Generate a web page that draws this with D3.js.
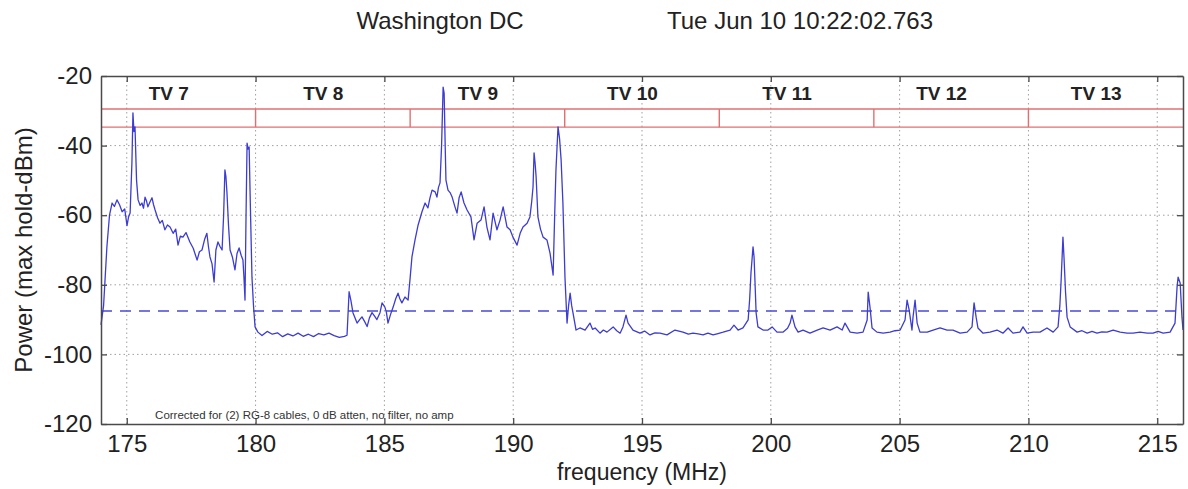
<!DOCTYPE html>
<html>
<head>
<meta charset="utf-8">
<script src="https://cdn.jsdelivr.net/npm/d3@7"></script>
<style>
  html, body { margin: 0; padding: 0; background: #fff; }
  svg { display: block; font-family: "Liberation Sans", Arial, sans-serif; }
</style>
</head>
<body>
<svg id="chart" width="1188" height="489"></svg>
<script>
// spectrum sweep, TV 7-13 (174-216 MHz)

const titleLeft = 'Washington DC';
const titleRight = 'Tue Jun 10 10:22:02.763';
const footNote = 'Corrected for (2) RG-8 cables, 0 dB atten, no filter, no amp';

const channels = ['TV 7', 'TV 8', 'TV 9', 'TV 10', 'TV 11', 'TV 12', 'TV 13'];
const channelEdges = [174, 180, 186, 192, 198, 204, 210, 216];
const bandRows = [-29.5, -34.7];     // the two red rails
const thresholdDbm = -87.5;          // dashed blue line

const xTicks = [175, 180, 185, 190, 195, 200, 205, 210, 215];
const yTicks = [-20, -40, -60, -80, -100, -120];

// [MHz, dBm] max hold trace
const spectrum = [
  [174.00,-91.5],[174.10,-86],[174.23,-69],[174.33,-60],[174.43,-56.5],[174.52,-57.5],[174.62,-55.6],
  [174.72,-57],[174.82,-59],[174.92,-58.2],[175.01,-63],[175.07,-60.5],[175.13,-59.4],[175.20,-45],
  [175.24,-30.6],[175.28,-36],[175.32,-34.6],[175.38,-50],[175.44,-55.6],[175.52,-57.2],[175.59,-56.5],
  [175.65,-58],[175.71,-54.8],[175.77,-56],[175.82,-57.6],[175.90,-56.2],[175.98,-55],[176.04,-57],
  [176.10,-58.5],[176.20,-60.8],[176.29,-62.3],[176.38,-61.5],[176.48,-64.2],[176.58,-62.8],[176.68,-63.4],
  [176.80,-65.2],[176.90,-64],[176.99,-68.6],[177.08,-66],[177.18,-66.3],[177.30,-65],[177.45,-67.7],
  [177.58,-69.5],[177.73,-72.9],[177.82,-70.5],[177.92,-70],[178.02,-67],[178.11,-65.2],[178.17,-69],
  [178.23,-72],[178.31,-74],[178.39,-79.2],[178.46,-70],[178.54,-67.7],[178.62,-69],[178.70,-70],
  [178.76,-60],[178.81,-47],[178.85,-49],[178.89,-53.6],[178.95,-63],[179.01,-70],[179.10,-72],
  [179.20,-75.7],[179.28,-71],[179.36,-69.4],[179.44,-71.5],[179.51,-72.9],[179.55,-78],[179.59,-84.4],
  [179.63,-60],[179.67,-39.3],[179.71,-41],[179.75,-40.4],[179.80,-58],[179.86,-77.8],[179.92,-86],
  [179.98,-92.1],[180.09,-93.6],
  [180.25,-94.6],[180.45,-93.4],[180.65,-94.2],[180.85,-93.8],[181.05,-94.9],[181.25,-94.1],[181.45,-94.7],
  [181.65,-93.9],[181.85,-94.8],[182.05,-94.2],[182.25,-94.9],[182.45,-94.0],[182.65,-94.4],[182.85,-93.9],
  [183.05,-94.6],[183.25,-95.1],[183.45,-94.8],[183.55,-94.5],[183.63,-82],[183.70,-84.5],[183.78,-88],
  [183.94,-91],[184.04,-90],[184.13,-89.2],[184.23,-90.5],[184.33,-92],[184.42,-89.5],[184.52,-88],
  [184.62,-89],[184.71,-90],[184.83,-88],[184.91,-85.2],[185.02,-86.4],[185.08,-88],[185.14,-91],
  [185.24,-88.5],[185.34,-86.4],[185.44,-84],[185.53,-82.4],[185.60,-84],[185.68,-85.2],[185.80,-83.5],
  [185.92,-84.4],[186.00,-78],[186.07,-72],[186.19,-67.1],[186.31,-62.8],[186.46,-59],[186.58,-56.5],
  [186.69,-57.9],[186.77,-55],[186.85,-52.8],[186.97,-53.3],[187.04,-54.8],[187.10,-52],[187.16,-50.7],
  [187.22,-40],[187.28,-23.2],[187.32,-25],[187.36,-40],[187.39,-49.9],[187.47,-52.8],[187.55,-53.5],
  [187.63,-54.8],[187.74,-57.6],[187.82,-59.4],[187.90,-55],[187.98,-53.3],[188.09,-56.5],[188.21,-58.5],
  [188.36,-60.5],[188.48,-67.1],[188.60,-62.3],[188.75,-61.4],[188.87,-57.6],[188.98,-63.4],[189.10,-67.1],
  [189.22,-59.4],[189.30,-62],[189.37,-64.2],[189.49,-61.4],[189.61,-57.6],[189.76,-63.4],[189.88,-64.2],
  [189.99,-66.3],[190.15,-68.6],[190.27,-65.2],[190.38,-63.4],[190.54,-62.3],[190.65,-60.5],[190.72,-56],
  [190.77,-51.9],[190.81,-42.1],[190.85,-45],[190.89,-49],[190.96,-60.5],[191.06,-64],[191.16,-66.3],
  [191.31,-67.1],[191.43,-70.9],[191.55,-77.2],[191.61,-60],[191.66,-47],[191.74,-34.6],[191.80,-38],
  [191.86,-44.1],[191.93,-56.5],[192.01,-77.8],[192.09,-91],[192.15,-86],[192.21,-82.4],[192.27,-86],
  [192.32,-88],[192.44,-93],[192.59,-92.4],[192.79,-93],[192.98,-91],[193.08,-92.8],[193.18,-92.4],
  [193.37,-93.9],[193.50,-93],[193.64,-93.6],[193.88,-92.1],[194.02,-93.2],[194.15,-93.9],[194.26,-92.1],
  [194.38,-88.7],[194.46,-91],[194.65,-93],[194.92,-93.9],[195.10,-93.3],[195.31,-94.4],[195.50,-93.8],
  [195.70,-93.9],[195.97,-94.4],[196.28,-93],[196.59,-93.6],[196.80,-94.2],[196.98,-93.9],[197.18,-94.1],
  [197.37,-94.4],[197.56,-93.9],[197.76,-94.4],[197.95,-94],[198.15,-93.6],[198.42,-93],[198.57,-91.6],
  [198.73,-93],[198.92,-92.4],[199.12,-90.1],[199.18,-84],[199.23,-76.6],[199.31,-69.1],[199.35,-72],
  [199.39,-80],[199.43,-88.1],[199.50,-92.1],[199.70,-93],[199.89,-93],[200.05,-92.1],[200.24,-93.6],
  [200.47,-93.6],[200.65,-92.5],[200.75,-91],[200.82,-88.7],[200.94,-92.1],[201.06,-93.6],[201.25,-93],
  [201.52,-93.9],[201.80,-93],[202.03,-92.4],[202.30,-93],[202.57,-92.1],[202.77,-93],[202.88,-91],
  [203.08,-93.6],[203.35,-93.9],[203.58,-93.6],[203.74,-90.1],[203.78,-82.1],[203.85,-86.4],[203.93,-92.4],
  [204.12,-93.6],[204.36,-93.9],[204.63,-93.6],[204.82,-93.2],[205.02,-93],[205.21,-90.1],[205.29,-84.4],
  [205.37,-87.2],[205.48,-93],[205.52,-89.3],[205.60,-84.4],[205.68,-91],[205.79,-93.6],[206.07,-93.6],
  [206.30,-93],[206.57,-92.4],[206.84,-93],[207.07,-93],[207.35,-93.9],[207.62,-93.6],[207.81,-92.1],
  [207.89,-85.2],[207.97,-89.3],[208.04,-92.4],[208.24,-93.9],[208.51,-93.6],[208.78,-93],[209.01,-93.9],
  [209.21,-92.4],[209.40,-93.9],[209.67,-93.6],[209.79,-92.1],[209.95,-93.9],[210.18,-93.6],[210.45,-93.6],
  [210.72,-92.4],[210.96,-93.6],[211.15,-92.1],[211.22,-86],[211.27,-78.6],[211.34,-66.3],[211.38,-72],
  [211.44,-82],[211.50,-89.3],[211.62,-92.1],[211.89,-93.6],[212.08,-93.2],[212.28,-93.9],[212.47,-93.4],
  [212.66,-93.9],[212.85,-93.5],[213.05,-93.6],[213.29,-93],[213.56,-93.6],[213.83,-93.9],[214.06,-93.9],
  [214.33,-93.6],[214.61,-93.9],[214.84,-93.9],[215.03,-93.4],[215.23,-93.9],[215.50,-93.6],[215.69,-91],
  [215.77,-80.6],[215.81,-77.8],[215.89,-79.5],[215.96,-89.3],[216.00,-93]
];

const W = 1188, H = 489;
const margin = {top: 76, right: 5, bottom: 65, left: 101};
const iw = W - margin.left - margin.right;
const ih = H - margin.top - margin.bottom;

const svg = d3.select('#chart');

const x = d3.scaleLinear().domain([channelEdges[0], channelEdges[channelEdges.length - 1]]).range([0, iw]);
const y = d3.scaleLinear().domain([-120, -20]).range([ih, 0]);

const g = svg.append('g').attr('transform', `translate(${margin.left},${margin.top})`);

// dotted grid
g.append('g')
  .selectAll('line')
  .data(xTicks)
  .join('line')
    .attr('x1', d => x(d)).attr('x2', d => x(d))
    .attr('y1', 0).attr('y2', ih)
    .attr('stroke', '#a0a0a0')
    .attr('stroke-width', 1)
    .attr('stroke-dasharray', '1.5,3');

g.append('g')
  .selectAll('line')
  .data(yTicks.slice(1, -1))
  .join('line')
    .attr('x1', 0).attr('x2', iw)
    .attr('y1', d => y(d)).attr('y2', d => y(d))
    .attr('stroke', '#a0a0a0')
    .attr('stroke-width', 1)
    .attr('stroke-dasharray', '1.5,3');

// channel rails (red)
g.append('g')
  .selectAll('line')
  .data(bandRows)
  .join('line')
    .attr('x1', 0).attr('x2', iw)
    .attr('y1', d => y(d)).attr('y2', d => y(d))
    .attr('stroke', '#e07070')
    .attr('stroke-width', 1.4);

g.append('g')
  .selectAll('line')
  .data(channelEdges.slice(1, -1))
  .join('line')
    .attr('x1', d => x(d)).attr('x2', d => x(d))
    .attr('y1', y(bandRows[0])).attr('y2', y(bandRows[1]))
    .attr('stroke', '#e07070')
    .attr('stroke-width', 1.4);

// channel names
g.append('g')
  .selectAll('text')
  .data(channels)
  .join('text')
    .attr('x', (d, i) => x((channelEdges[i] + channelEdges[i + 1]) / 2 - 0.37))
    .attr('y', y(-25))
    .attr('dy', '0.35em')
    .attr('text-anchor', 'middle')
    .attr('font-size', 19)
    .attr('font-weight', 'bold')
    .attr('fill', '#222')
    .text(d => d);

// threshold
g.append('line')
  .attr('x1', 0).attr('x2', iw)
  .attr('y1', y(thresholdDbm)).attr('y2', y(thresholdDbm))
  .attr('stroke', '#4a4ad8')
  .attr('stroke-width', 1.5)
  .attr('stroke-dasharray', '11,8');

// trace
const line = d3.line()
  .x(d => x(d[0]))
  .y(d => y(d[1]));

g.append('path')
  .datum(spectrum)
  .attr('fill', 'none')
  .attr('stroke', '#3c3cd2')
  .attr('stroke-width', 1.3)
  .attr('stroke-linejoin', 'round')
  .attr('d', line);

// axes: ticks point inward, box on all four sides
const axisColor = '#4a4a4a';
const plain = d => String(d);   // plain hyphen minus, like the original
const xAxis = g.append('g')
  .attr('transform', `translate(0,${ih})`)
  .call(d3.axisBottom(x).tickValues(xTicks).tickFormat(plain).tickSizeInner(-6).tickSizeOuter(0).tickPadding(11));
const yAxis = g.append('g')
  .call(d3.axisLeft(y).tickValues(yTicks).tickFormat(plain).tickSizeInner(-6).tickSizeOuter(0).tickPadding(9));
const xTop = g.append('g')
  .call(d3.axisTop(x).tickValues(xTicks).tickSizeInner(-6).tickSizeOuter(0).tickFormat(''));
const yRight = g.append('g')
  .attr('transform', `translate(${iw},0)`)
  .call(d3.axisRight(y).tickValues(yTicks).tickSizeInner(-6).tickSizeOuter(0).tickFormat(''));

[xAxis, yAxis, xTop, yRight].forEach(a => {
  a.select('.domain').attr('stroke', axisColor).attr('stroke-width', 1.5);
  a.selectAll('.tick line').attr('stroke', axisColor).attr('stroke-width', 1.3);
  a.selectAll('.tick text').attr('fill', '#222').attr('font-size', 24)
    .attr('font-family', '"Liberation Sans", Arial, sans-serif');
});

// titles
svg.append('text')
  .attr('x', 440).attr('y', 29)
  .attr('text-anchor', 'middle')
  .attr('font-size', 24)
  .attr('fill', '#222')
  .text(titleLeft);

svg.append('text')
  .attr('x', 800).attr('y', 29)
  .attr('text-anchor', 'middle')
  .attr('font-size', 24)
  .attr('fill', '#222')
  .text(titleRight);

// axis labels
svg.append('text')
  .attr('x', margin.left + iw / 2).attr('y', 480)
  .attr('text-anchor', 'middle')
  .attr('font-size', 23)
  .attr('fill', '#222')
  .text('frequency (MHz)');

svg.append('text')
  .attr('transform', `translate(32,${margin.top + ih / 2}) rotate(-90)`)
  .attr('text-anchor', 'middle')
  .attr('font-size', 24)
  .attr('fill', '#222')
  .text('Power (max hold-dBm)');

// footnote sits right on the bottom axis
g.append('text')
  .attr('x', x(176.1)).attr('y', ih - 5)
  .attr('font-size', 11.5)
  .attr('fill', '#333')
  .text(footNote);
</script>
</body>
</html>
